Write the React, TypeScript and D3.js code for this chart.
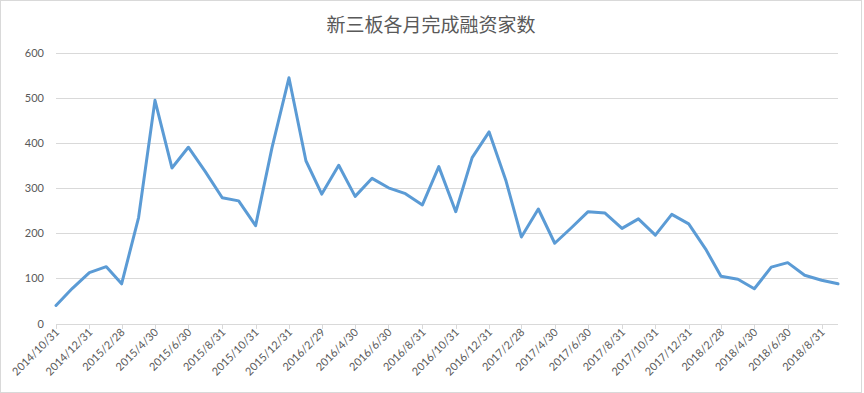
import { useEffect, useRef } from 'react';
import * as d3 from 'd3';

// monthly counts, month-end dates 2014/10/31 .. 2018/9/30
const startMonth = [2014, 10];
const counts = [
  40, 78, 113,
  126, 88, 235, 495, 345, 391, 337, 279, 272, 217, 390, 545,
  361, 287, 351, 282, 322, 301, 288, 263, 348, 248, 368, 425,
  316, 192, 254, 178, 213, 248, 245, 211, 232, 196, 242, 221,
  165, 105, 98, 77, 125, 135, 107, 96, 88,
];
const yTicks = [0, 100, 200, 300, 400, 500, 600];
const title = '新三板各月完成融资家数';

const monthEnd = (i: number) => new Date(startMonth[0], startMonth[1] - 1 + i + 1, 0);
const fmt = (d: Date) => `${d.getFullYear()}/${d.getMonth() + 1}/${d.getDate()}`;

export default function App() {
  const svgRef = useRef<SVGSVGElement | null>(null);

  useEffect(() => {
    if (!svgRef.current) return;
    const width = 864;
    const height = 393;
    const svg = d3.select(svgRef.current);
    svg.selectAll('*').remove();

    const data = counts.map((v, i) => ({ date: monthEnd(i), v }));
    const tickDates = data.filter((_, i) => i % 2 === 0).map((d) => d.date);

    const x = d3
      .scaleTime()
      .domain([data[0].date, data[data.length - 1].date])
      .range([56, 838]);
    const y = d3.scaleLinear().domain([0, 600]).range([323.5, 53]);

    // frame
    svg
      .append('rect')
      .attr('x', 0.5)
      .attr('y', 0.5)
      .attr('width', 861)
      .attr('height', height - 1)
      .attr('fill', 'white')
      .attr('stroke', '#d9d9d9');

    svg
      .append('text')
      .attr('x', 431)
      .attr('y', 32)
      .attr('text-anchor', 'middle')
      .attr('font-family', '"Noto Sans CJK SC", sans-serif')
      .attr('font-size', 19)
      .attr('fill', '#595959')
      .text(title);

    // grid + y labels
    const grid = svg.append('g');
    grid
      .selectAll('line')
      .data(yTicks)
      .enter()
      .append('line')
      .attr('x1', 56)
      .attr('x2', 838)
      .attr('y1', (d) => Math.round(y(d)) + 0.5)
      .attr('y2', (d) => Math.round(y(d)) + 0.5)
      .attr('stroke', '#d9d9d9')
      .attr('stroke-width', 1);
    grid
      .selectAll('text')
      .data(yTicks)
      .enter()
      .append('text')
      .attr('x', 44)
      .attr('y', (d) => y(d) + 4)
      .attr('text-anchor', 'end')
      .attr('font-family', 'Lato, sans-serif')
      .attr('font-size', 11)
      .attr('fill', '#595959')
      .text((d) => d);

    // x ticks + labels
    const xa = svg.append('g');
    xa.selectAll('line')
      .data(tickDates)
      .enter()
      .append('line')
      .attr('x1', (d) => Math.round(x(d)) + 0.5)
      .attr('x2', (d) => Math.round(x(d)) + 0.5)
      .attr('y1', 324)
      .attr('y2', 329)
      .attr('stroke', '#d9d9d9');
    xa.selectAll('text')
      .data(tickDates)
      .enter()
      .append('text')
      .attr('transform', (d) => `translate(${x(d) + 4},${333}) rotate(-45)`)
      .attr('text-anchor', 'end')
      .attr('font-family', 'Lato, sans-serif')
      .attr('font-size', 11)
      .attr('fill', '#595959')
      .text((d) => fmt(d));

    const line = d3
      .line<{ date: Date; v: number }>()
      .x((d) => x(d.date))
      .y((d) => y(d.v));
    svg
      .append('path')
      .datum(data)
      .attr('d', line)
      .attr('fill', 'none')
      .attr('stroke', '#5b9bd5')
      .attr('stroke-width', 3)
      .attr('stroke-linejoin', 'round')
      .attr('stroke-linecap', 'round');
  }, []);

  return (
    <>
      <style>{'body{margin:0}'}</style>
      <svg ref={svgRef} width={864} height={393} style={{ display: 'block' }} />
    </>
  );
}
